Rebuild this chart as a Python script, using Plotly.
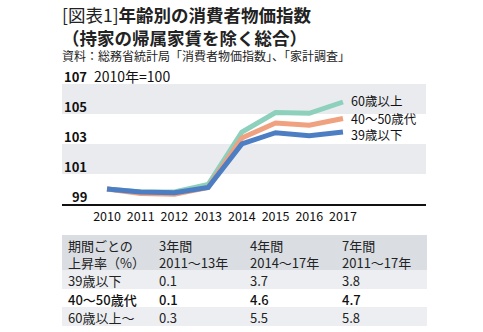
import plotly.graph_objects as go

# ---- data ----
years = [2010, 2011, 2012, 2013, 2014, 2015, 2016, 2017]
under39 = [100.0, 99.8, 99.75, 100.1, 103.0, 103.75, 103.55, 103.8]
age40_50 = [100.0, 99.7, 99.65, 100.1, 103.4, 104.4, 104.25, 104.7]
over60 = [100.0, 99.8, 99.8, 100.3, 103.8, 105.1, 105.05, 105.8]
series_names = ["60歳以上", "40～50歳代", "39歳以下"]
y_ticks = [99, 101, 103, 105, 107]

tbl_header1 = ["期間ごとの", "3年間", "4年間", "7年間"]
tbl_header2 = ["上昇率（%）", "2011～13年", "2014～17年", "2011～17年"]
tbl_rows = ["39歳以下", "40～50歳代", "60歳以上～"]
rise_11_13 = [0.1, 0.1, 0.3]
rise_14_17 = [3.7, 4.6, 5.5]
rise_11_17 = [3.8, 4.7, 5.8]

FONT = "Noto Sans CJK JP"
W, H = 483, 332
L, R, T, B = 62, 426, 84, 204  # plot area pixels


def px(p):
    return (p - L) / (R - L)


def py(p):
    return (B - p) / (B - T)


colors = {"60歳以上": "#8dd0bc", "40～50歳代": "#f0a17f", "39歳以下": "#4d7ec4"}
vals = {"60歳以上": over60, "40～50歳代": age40_50, "39歳以下": under39}
label_shift = {"60歳以上": 1.5, "40～50歳代": 0, "39歳以下": -2}

fig = go.Figure()
for name in series_names:
    fig.add_trace(go.Scatter(x=years, y=vals[name], mode="lines", name=name,
                             line=dict(color=colors[name], width=5),
                             hoverinfo="skip"))

shapes = []
# background bands
for lo, hi in [(101, 103), (105, 107)]:
    shapes.append(dict(type="rect", xref="paper", yref="y", x0=0, x1=1, y0=lo, y1=hi,
                       fillcolor="#e9ebee", line=dict(width=0), layer="below"))

annotations = []
# title (two lines in one block)
annotations.append(dict(xref="paper", yref="paper", x=px(61), y=py(1), xanchor="left", yanchor="top",
                        text="[図表1]<b>年齢別の消費者物価指数</b><br><b>（持家の帰属家賃を除く総合）</b>",
                        showarrow=False, align="left", borderpad=0,
                        font=dict(family=FONT, size=17.5, color="#222")))
annotations.append(dict(xref="paper", yref="paper", x=px(61), y=py(55), xanchor="left", yanchor="middle",
                        text="資料：総務省統計局「消費者物価指数」、「家計調査」", showarrow=False, borderpad=0,
                        font=dict(family=FONT, size=12, color="#222")))
# y tick labels
for v in y_ticks:
    annotations.append(dict(xref="paper", yref="y", x=px(89), y=v, xanchor="right", yanchor="bottom",
                            text=f"<b>{v}</b>", showarrow=False, yshift=-4,
                            font=dict(family=FONT, size=13, color="#111")))
annotations.append(dict(xref="paper", yref="y", x=px(92), y=107, xanchor="left", yanchor="bottom",
                        text="2010年=100", showarrow=False, yshift=-4,
                        font=dict(family=FONT, size=14, color="#111")))
# series labels
for name in series_names:
    annotations.append(dict(xref="x", yref="y", x=years[-1], y=vals[name][-1], xanchor="left",
                            yanchor="middle", xshift=7, yshift=label_shift[name], text=name,
                            showarrow=False, borderpad=0,
                            font=dict(family=FONT, size=12.5, color="#111")))

# table
shapes.append(dict(type="rect", xref="paper", yref="paper", x0=px(62), x1=px(427), y0=py(235), y1=py(270),
                   fillcolor="#dadee3", line=dict(width=0)))
row_y = [(270, 289), (289, 307), (307, 326)]
row_fill = ["#eceef1", "#ffffff", "#eceef1"]
for (a, b), f in zip(row_y, row_fill):
    shapes.append(dict(type="rect", xref="paper", yref="paper", x0=px(62), x1=px(427), y0=py(a), y1=py(b),
                       fillcolor=f, line=dict(width=0)))
col_x = [68, 159, 250, 342]
for cx, h1, h2 in zip(col_x, tbl_header1, tbl_header2):
    annotations.append(dict(xref="paper", yref="paper", x=px(cx - 1), y=py(254), xanchor="left",
                            yanchor="middle", text=f"{h1}<br>{h2}", showarrow=False, align="left",
                            borderpad=0, font=dict(family=FONT, size=13, color="#222")))
for i, lab in enumerate(tbl_rows):
    yy = (row_y[i][0] + row_y[i][1]) / 2 + 1
    cells = [lab, f"{rise_11_13[i]:.1f}", f"{rise_14_17[i]:.1f}", f"{rise_11_17[i]:.1f}"]
    for cx, txt in zip(col_x, cells):
        annotations.append(dict(xref="paper", yref="paper", x=px(cx - 1), y=py(yy), xanchor="left",
                                yanchor="middle", text=txt, showarrow=False, borderpad=0,
                                font=dict(family=FONT, size=13, color="#111" if i == 1 else "#222",
                                          weight=500 if i == 1 else 400)))

yr_per_px = 1 / 33.7
fig.update_layout(
    width=W, height=H,
    margin=dict(l=L, r=W - R, t=T, b=H - B, pad=0),
    paper_bgcolor="white", plot_bgcolor="rgba(0,0,0,0)",
    showlegend=False,
    shapes=shapes, annotations=annotations,
    xaxis=dict(range=[2010 - 45 * yr_per_px, 2017 + 83 * yr_per_px], tickvals=years,
               ticktext=[str(y) for y in years], showgrid=False, zeroline=False,
               showline=True, linecolor="#111", linewidth=1.5, ticks="", ticklen=0,
               tickfont=dict(family=FONT, size=12.5, color="#111"),
               fixedrange=True),
    yaxis=dict(range=[99, 107], showgrid=False, zeroline=False, showticklabels=False,
               showline=False, fixedrange=True),
    font=dict(family=FONT),
)

fig.write_html("out.html")
